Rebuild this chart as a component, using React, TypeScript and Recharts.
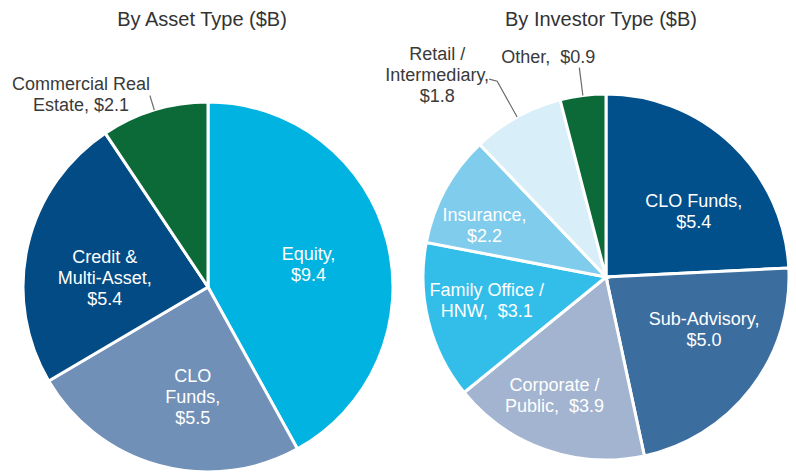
import React from 'react';
import { PieChart, Pie, Cell } from 'recharts';

// ---- Data ----
const assetNames = ['Equity', 'CLO Funds', 'Credit & Multi-Asset', 'Commercial Real Estate'];
const assetValues = [9.4, 5.5, 5.4, 2.1];
const assetLabelLines = [
  ['Equity,', '{v}'],
  ['CLO', 'Funds,', '{v}'],
  ['Credit &', 'Multi-Asset,', '{v}'],
  ['Commercial Real', 'Estate, {v}'],
];

const investorNames = ['CLO Funds', 'Sub-Advisory', 'Corporate / Public', 'Family Office / HNW', 'Insurance', 'Retail / Intermediary', 'Other'];
const investorValues = [5.4, 5.0, 3.9, 3.1, 2.2, 1.8, 0.9];
const investorLabelLines = [
  ['CLO Funds,', '{v}'],
  ['Sub-Advisory,', '{v}'],
  ['Corporate /', 'Public,  {v}'],
  ['Family Office /', 'HNW,  {v}'],
  ['Insurance,', '{v}'],
  ['Retail /', 'Intermediary,', '{v}'],
  ['Other,  {v}'],
];

const titles = ['By Asset Type ($B)', 'By Investor Type ($B)'];

// ---- Styles ----
const assetColors = ['#00B3E0', '#7190B8', '#034B84', '#0B6A38'];
const investorColors = ['#01508C', '#3C6D9F', '#A2B4CF', '#33BEEA', '#80CCEC', '#D8EEF8', '#0B6A38'];

type Layout = { rf?: number; dx: number; dy: number; leader?: number; hook?: number; dark?: boolean };

const assetLayout: Layout[] = [
  { rf: 0.55, dx: 2, dy: 3 },
  { rf: 0.6, dx: 14, dy: 3 },
  { rf: 0.6, dx: 5, dy: 16 },
  { leader: 15, dx: -69, dy: -1, dark: true },
];

const investorLayout: Layout[] = [
  { rf: 0.6, dx: 12, dy: 14 },
  { rf: 0.6, dx: 11, dy: -14 },
  { rf: 0.7, dx: -9, dy: -2 },
  { rf: 0.7, dx: 5, dy: -8 },
  { rf: 0.7, dx: -9, dy: 10 },
  { leader: 41, hook: 8, dx: -60, dy: -6, dark: true },
  { leader: 28, dx: -31, dy: -11, dark: true },
];

const FONT = '"Liberation Sans", Arial, sans-serif';
const FS = 18;
const TITLE_FS = 20;
const LH = 21;
const RAD = Math.PI / 180;

function makeLabel(values: number[], lines: string[][], layout: Layout[]) {
  return (props: any) => {
    const { cx, cy, midAngle, outerRadius, index } = props;
    const L = layout[index];
    const cos = Math.cos(-midAngle * RAD);
    const sin = Math.sin(-midAngle * RAD);
    const txt = lines[index].map((s) => s.replace('{v}', '$' + values[index].toFixed(1)));
    let x: number;
    let y: number;
    let leader: React.ReactNode = null;
    if (L.leader) {
      const x1 = cx + outerRadius * cos;
      const y1 = cy + outerRadius * sin;
      const x2 = cx + (outerRadius + L.leader) * cos;
      const y2 = cy + (outerRadius + L.leader) * sin;
      const pts = L.hook ? `${x1},${y1} ${x2},${y2} ${x2 - L.hook},${y2 - 2}` : `${x1},${y1} ${x2},${y2}`;
      leader = <polyline points={pts} fill="none" stroke="#6b6b6b" strokeWidth={1.2} />;
      x = x2 + L.dx;
      y = y2 + L.dy;
    } else {
      const r = (L.rf || 0.6) * outerRadius;
      x = cx + r * cos + L.dx;
      y = cy + r * sin + L.dy;
    }
    const y0 = y - ((txt.length - 1) * LH) / 2;
    return (
      <g key={'lbl' + index}>
        {leader}
        {txt.map((t, i) => (
          <text
            key={i}
            x={x}
            y={y0 + i * LH}
            textAnchor="middle"
            dominantBaseline="central"
            fill={L.dark ? '#3a3a3a' : '#ffffff'}
            fontSize={FS}
            fontFamily={FONT}
            style={{ whiteSpace: 'pre' }}
          >
            {t}
          </text>
        ))}
      </g>
    );
  };
}

export default function App() {
  const assetData = assetNames.map((name, i) => ({ name, value: assetValues[i] }));
  const investorData = investorNames.map((name, i) => ({ name, value: investorValues[i] }));
  return (
    <div style={{ position: 'absolute', left: 0, top: 0, width: 796, height: 473, background: '#fff' }}>
      <PieChart width={796} height={473} margin={{ top: 0, right: 0, bottom: 0, left: 0 }}>
        <Pie
          data={assetData}
          dataKey="value"
          nameKey="name"
          cx={208}
          cy={287}
          outerRadius={185}
          startAngle={90}
          endAngle={-270}
          stroke="#ffffff"
          strokeWidth={3}
          isAnimationActive={false}
          labelLine={false}
          label={makeLabel(assetValues, assetLabelLines, assetLayout)}
        >
          {assetData.map((d, i) => (
            <Cell key={d.name} fill={assetColors[i]} />
          ))}
        </Pie>
        <Pie
          data={investorData}
          dataKey="value"
          nameKey="name"
          cx={606}
          cy={277}
          outerRadius={183}
          startAngle={90}
          endAngle={-270}
          stroke="#ffffff"
          strokeWidth={3}
          isAnimationActive={false}
          labelLine={false}
          label={makeLabel(investorValues, investorLabelLines, investorLayout)}
        >
          {investorData.map((d, i) => (
            <Cell key={d.name} fill={investorColors[i]} />
          ))}
        </Pie>
      </PieChart>
      <svg width={796} height={473} style={{ position: 'absolute', left: 0, top: 0, pointerEvents: 'none' }}>
        <text x={202} y={26} textAnchor="middle" fontSize={TITLE_FS} fontFamily={FONT} fill="#333333">
          {titles[0]}
        </text>
        <text x={601} y={26} textAnchor="middle" fontSize={TITLE_FS} fontFamily={FONT} fill="#333333">
          {titles[1]}
        </text>
      </svg>
    </div>
  );
}
